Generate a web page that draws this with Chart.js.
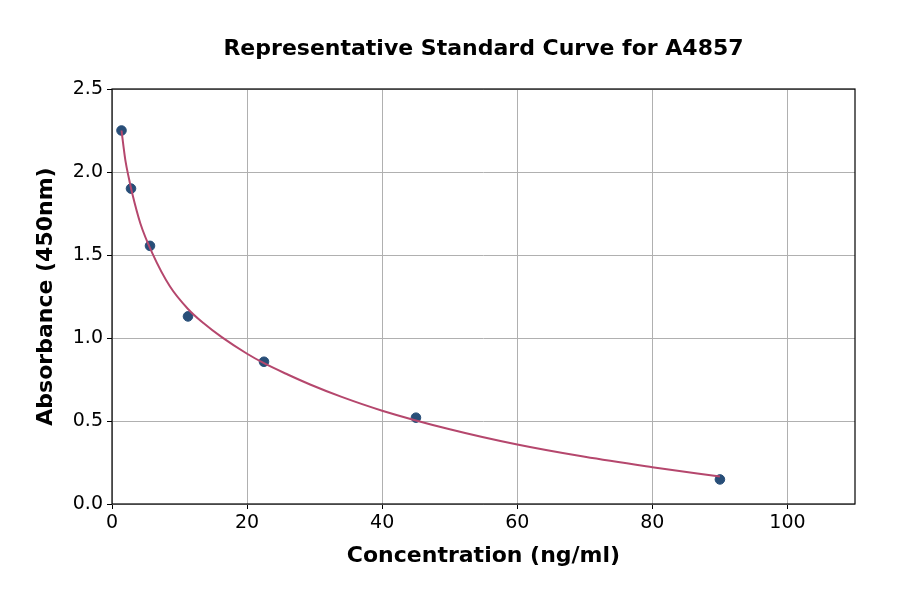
<!DOCTYPE html>
<html>
<head>
<meta charset="utf-8">
<script src="https://cdn.jsdelivr.net/npm/chart.js@4"></script>
<style>
  html, body { margin: 0; padding: 0; background: #ffffff; }
  #wrap { width: 900px; height: 594px; }
</style>
</head>
<body>
<div id="wrap"><canvas id="c" width="900" height="594"></canvas></div>
<script>
// Standard points
const concentrations = [1.40625, 2.8125, 5.625, 11.25, 22.5, 45, 90];
const absorbances = [2.25, 1.90, 1.555, 1.13, 0.857, 0.52, 0.148];
// Fitted curve
const curveX = [1.41, 1.7, 2.0, 2.5, 3.0, 4.2, 5.98, 8.59, 11.25, 13.53, 16.25, 20, 22.5, 26, 29.33, 34, 40, 50, 60, 70, 80, 90];
const curveY = [2.25, 2.155, 2.065, 1.962, 1.87, 1.69, 1.51, 1.31, 1.175, 1.09, 1.005, 0.905, 0.848, 0.78, 0.72, 0.645, 0.562, 0.45, 0.358, 0.284, 0.222, 0.165];
const xTicks = [0, 20, 40, 60, 80, 100];
const yTicks = [0.0, 0.5, 1.0, 1.5, 2.0, 2.5];

const titleText = 'Representative Standard Curve for A4857';
const xTitle = 'Concentration (ng/ml)';
const yTitle = 'Absorbance (450nm)';

const FONT = "'DejaVu Sans', sans-serif";

const framePlugin = {
  id: 'frame',
  afterDraw(chart) {
    const { ctx, chartArea: a } = chart;
    ctx.save();
    ctx.strokeStyle = '#000000';
    ctx.lineWidth = 1.2;
    ctx.strokeRect(a.left, a.top, a.right - a.left, a.bottom - a.top);
    ctx.fillStyle = '#000000';
    ctx.font = "bold 22px " + FONT;
    ctx.textAlign = 'center';
    ctx.textBaseline = 'middle';
    ctx.fillText(titleText, (a.left + a.right) / 2, 49);
    ctx.restore();
  }
};

new Chart(document.getElementById('c'), {
  data: {
    datasets: [
      {
        type: 'line',
        label: 'fit',
        data: curveX.map((x, i) => ({ x: x, y: curveY[i] })),
        borderColor: '#b5476d',
        borderWidth: 2,
        pointRadius: 0,
        fill: false,
        cubicInterpolationMode: 'monotone',
        order: 0
      },
      {
        type: 'scatter',
        label: 'points',
        data: concentrations.map((x, i) => ({ x: x, y: absorbances[i] })),
        backgroundColor: '#284e78',
        borderColor: '#284e78',
        pointRadius: 4.8,
        order: 1
      }
    ]
  },
  plugins: [framePlugin],
  options: {
    responsive: false,
    animation: false,
    devicePixelRatio: 1,
    layout: { padding: { top: 89, right: 45, left: 0, bottom: 0 } },
    plugins: {
      legend: { display: false },
      title: { display: false },
      tooltip: { enabled: false }
    },
    scales: {
      x: {
        type: 'linear',
        min: 0,
        max: 110,
        afterFit(scale) { scale.height = 90; },
        afterBuildTicks(scale) { scale.ticks = xTicks.map(v => ({ value: v })); },
        grid: { color: '#b0b0b0', lineWidth: 1, tickColor: '#000000', tickLength: 5 },
        border: { display: false },
        ticks: {
          color: '#000000',
          font: { family: FONT, size: 19 },
          padding: 3,
          maxRotation: 0,
          callback: v => String(v)
        },
        title: {
          display: true,
          text: xTitle,
          color: '#000000',
          font: { family: FONT, size: 22, weight: 'bold' },
          padding: { top: 0, bottom: 25 }
        }
      },
      y: {
        type: 'linear',
        min: 0,
        max: 2.5,
        afterFit(scale) { scale.width = 112; },
        afterBuildTicks(scale) { scale.ticks = yTicks.map(v => ({ value: v })); },
        grid: { color: '#b0b0b0', lineWidth: 1, tickColor: '#000000', tickLength: 5 },
        border: { display: false },
        ticks: {
          color: '#000000',
          font: { family: FONT, size: 19 },
          padding: 4,
          callback: v => Number(v).toFixed(1)
        },
        title: {
          display: true,
          text: yTitle,
          color: '#000000',
          font: { family: FONT, size: 22, weight: 'bold' },
          padding: { top: 33, bottom: 0 }
        }
      }
    }
  }
});
</script>
</body>
</html>
